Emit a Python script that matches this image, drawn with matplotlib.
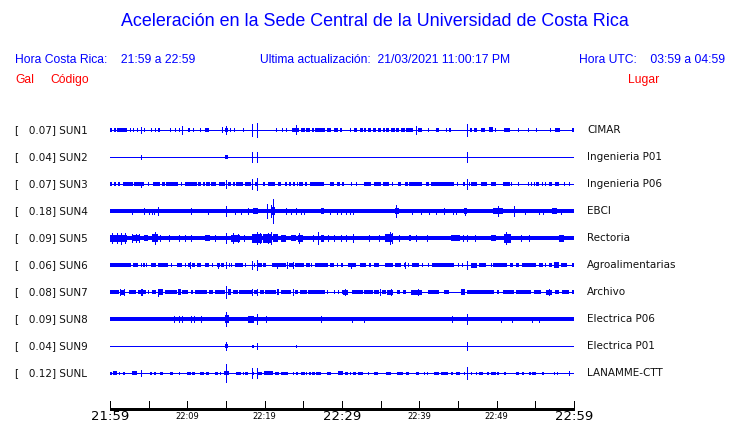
import matplotlib
matplotlib.use('Agg')
import matplotlib.pyplot as plt

# station codes, peak value shown in brackets, and site names
codes = ['SUN1', 'SUN2', 'SUN3', 'SUN4', 'SUN5', 'SUN6', 'SUN7', 'SUN8', 'SUN9', 'SUNL']
gal = [0.07, 0.04, 0.07, 0.18, 0.09, 0.06, 0.08, 0.09, 0.04, 0.12]
places = ['CIMAR', 'Ingenieria P01', 'Ingenieria P06', 'EBCI', 'Rectoria',
          'Agroalimentarias', 'Archivo', 'Electrica P06', 'Electrica P01', 'LANAMME-CTT']

# background half width of each trace (px)
base_hw = [0.5, 0.5, 0.5, 2.0, 2.2, 0.5, 0.5, 2.0, 0.5, 0.5]

# time axis, minutes after 21:59
tick_min = list(range(0, 61, 5))
label_min = [0, 10, 20, 30, 40, 50, 60]
label_txt = ['21:59', '22:09', '22:19', '22:29', '22:39', '22:49', '22:59']
big_labels = ['21:59', '22:29', '22:59']

# bursts of noise: (start min, end min, half width px); default half width 1.6
sun1_blocks = [(0.0, 0.2), (0.56, 0.77), (0.95, 2.15), (2.58, 2.7), (3.0, 3.1), (3.44, 3.55),
               (4.43, 4.55), (5.29, 5.4), (5.81, 5.9), (6.24, 6.45), (7.78, 7.9), (8.39, 8.5),
               (8.9, 9.07), (10.1, 10.3), (10.75, 10.85), (11.6, 11.7), (12.26, 12.77),
               (14.9, 15.3), (15.5, 15.6), (16.04, 16.15), (17.2, 17.3), (21.5, 21.6),
               (22.2, 22.3), (22.8, 22.9), (23.5, 24.5, 2), (24.7, 25.2), (25.4, 25.8),
               (26.1, 26.4), (26.45, 27.74), (28.1, 28.6), (28.95, 29.5), (29.7, 30.0),
               (31.0, 31.2), (31.5, 32.0), (32.3, 32.7), (32.9, 33.1), (33.3, 33.8),
               (34.0, 34.4), (34.6, 35.1), (35.3, 35.5), (35.7, 36.1), (36.4, 36.8),
               (37.0, 37.4), (37.6, 38.1), (38.3, 39.2), (39.8, 40.4), (41.1, 41.2),
               (42.2, 42.6), (43.4, 43.5), (43.9, 44.1), (46.5, 46.8), (47.1, 47.4),
               (48.0, 48.5), (49.0, 49.5, 2.5), (49.8, 49.9), (51.0, 51.7), (52.8, 52.9),
               (54.1, 54.2), (55.1, 55.2), (56.9, 57.0), (57.6, 58.2, 2), (59.7, 60.0, 2)]
sun1_spikes = [(4.0, 3), (9.25, 4), (14.5, 2.5), (15.05, 4), (18.36, 6), (19.05, 7),
               (24.0, 4.5), (39.6, 4), (46.1, 6)]

sun2_blocks = [(14.9, 15.2, 2)]
sun2_spikes = [(4.0, 2), (18.36, 5), (19.05, 5), (46.1, 5)]

sun3_blocks = [(0.0, 0.2), (0.56, 0.77), (1.0, 1.3), (1.72, 3.0), (3.14, 4.43), (4.95, 5.05),
               (5.6, 6.45), (6.75, 7.1), (7.3, 8.8), (9.15, 9.25), (9.7, 11.2), (11.4, 11.8),
               (12.0, 12.26), (12.47, 12.9), (13.1, 13.76), (14.06, 14.84), (15.3, 15.6),
               (15.9, 16.1), (16.35, 17.2), (17.4, 18.2), (18.7, 19.2), (19.8, 20.1),
               (20.4, 21.3), (21.7, 22.15), (22.6, 22.9), (23.2, 23.4), (23.65, 23.9),
               (24.2, 24.3), (24.5, 25.0), (25.2, 25.5), (25.8, 27.7), (28.4, 29.0),
               (29.4, 29.7), (30.0, 30.3), (31.2, 31.3), (31.8, 31.9), (32.9, 33.8),
               (34.2, 35.1), (35.3, 36.1), (36.5, 36.6), (37.2, 37.6), (38.1, 38.5),
               (38.7, 40.4), (40.8, 41.3), (41.5, 44.5), (44.9, 45.0), (45.6, 45.9),
               (46.4, 46.5), (46.7, 47.5), (48.0, 48.8), (49.25, 49.9), (50.8, 51.7),
               (51.9, 52.0), (52.7, 52.8), (54.0, 54.1), (54.4, 54.5), (54.8, 54.9),
               (55.1, 55.5), (55.9, 56.0), (56.3, 56.4), (56.8, 57.2), (57.6, 58.1),
               (58.7, 58.8), (59.3, 59.4)]
sun3_spikes = [(4.0, 2.5), (15.05, 4), (18.36, 5), (19.05, 6), (46.1, 5)]

sun4_blocks = [(18.5, 19.1, 3), (21.0, 21.4, 4), (27.3, 27.7, 3), (36.8, 37.4, 3),
               (45.8, 46.2, 3), (49.5, 50.8, 3), (57.2, 57.8, 3)]
sun4_spikes = [(2.8, 2.5), (4.4, 3), (5.0, 2.5), (5.4, 2.5), (5.7, 2.5), (6.2, 4), (10.5, 3),
               (12.7, 2.5), (15.05, 5), (16.2, 2.5), (17.0, 2.5), (17.8, 3), (20.35, 7),
               (20.8, 6), (21.1, 12), (22.8, 3), (23.4, 2.5), (24.1, 3), (24.7, 2.5),
               (25.1, 2.5), (28.5, 2.5), (29.4, 2.5), (29.9, 2.5), (30.5, 2.5), (31.0, 2.5),
               (31.4, 2.5), (37.0, 6), (39.1, 2.5), (40.2, 2.5), (41.2, 2.5), (42.2, 2.5),
               (43.2, 3), (44.3, 2.5), (44.8, 2.5), (45.9, 3.5), (50.2, 5), (52.2, 5),
               (53.6, 2.5), (55.5, 2.5), (56.0, 2.5), (58.3, 2.5)]

sun5_blocks = [(0.0, 2.15, 3.5), (2.8, 3.9, 3), (4.4, 4.95, 3), (5.4, 6.2, 4), (12.3, 12.9, 3),
               (15.7, 16.8, 3.5), (18.3, 19.6, 4.5), (19.8, 20.9, 4.5), (21.1, 21.7, 4),
               (22.1, 22.8, 3.5), (23.4, 24.1, 3), (24.3, 25.0, 3.5), (27.3, 27.7, 3.5),
               (35.5, 36.6, 4), (38.7, 38.9, 3), (44.1, 45.2, 3), (49.3, 49.9, 3),
               (51.0, 51.8, 4.5), (58.1, 58.7, 3.5)]
sun5_spikes = [(0.3, 5), (0.86, 5), (1.4, 5.5), (1.9, 5), (2.9, 4), (3.4, 4), (3.8, 4), (5.8, 6),
               (6.45, 3), (7.6, 3), (8.9, 3), (9.7, 3), (10.45, 3), (13.55, 3), (15.05, 5),
               (15.9, 5), (16.6, 4), (17.3, 3), (19.05, 6), (19.35, 5), (20.4, 5), (20.8, 6),
               (24.5, 5), (26.3, 3), (26.9, 6), (28.2, 3), (29.0, 3), (29.9, 3), (30.5, 3),
               (31.4, 4), (33.5, 3), (34.8, 3), (36.2, 6), (36.5, 5), (37.4, 3), (39.6, 3),
               (40.95, 3), (45.6, 3), (46.2, 3), (47.2, 3), (51.2, 6), (53.1, 3), (54.2, 3)]

sun6_blocks = [(0.0, 2.7, 2), (3.0, 3.65, 2), (4.0, 4.1, 2), (4.3, 4.5, 2), (4.7, 4.8, 2),
               (5.3, 5.9, 2), (6.15, 6.25, 2), (6.3, 7.5, 2), (7.9, 8.0, 2), (8.7, 9.3, 2),
               (9.7, 9.8, 2), (10.1, 10.45, 2), (10.6, 11.0, 2), (11.3, 11.8, 2),
               (12.26, 12.77, 2), (13.2, 13.3, 2), (13.8, 14.2, 2), (14.4, 14.8, 2),
               (15.35, 15.45, 2), (15.7, 15.8, 2), (16.1, 17.2, 2), (17.5, 17.6, 2),
               (18.6, 18.8, 2), (19.2, 19.6, 2), (19.8, 20.2, 2), (20.9, 22.8, 2),
               (23.2, 23.65, 2), (23.9, 25.1, 2), (25.4, 25.8, 2), (26.0, 26.1, 2),
               (26.45, 28.25, 2), (28.5, 29.0, 2), (29.4, 29.5, 2), (29.9, 30.1, 2),
               (30.75, 31.8, 2), (32.35, 33.1, 2), (33.5, 33.8, 2), (34.1, 34.8, 2),
               (35.5, 36.6, 2), (36.8, 37.6, 2), (38.0, 38.3, 2), (38.5, 38.6, 2),
               (39.1, 39.9, 2), (40.4, 40.5, 2), (41.1, 41.2, 2), (41.7, 44.5, 2),
               (44.95, 45.05, 2), (45.5, 45.6, 2), (46.7, 47.4, 2.5), (47.7, 48.6, 2),
               (49.25, 49.35, 2), (49.55, 51.3, 2), (51.7, 52.05, 2), (52.5, 52.9, 2),
               (53.3, 55.1, 2), (55.5, 56.0, 2), (56.3, 56.4, 2), (56.8, 57.2, 2),
               (57.4, 58.1, 3), (58.3, 59.1, 2), (59.8, 60.0, 2)]
sun6_spikes = [(10.3, 3), (14.0, 2.5), (15.05, 3), (18.36, 4), (19.05, 5), (21.6, 2.5),
               (22.9, 3), (23.65, 3), (31.2, 2.5), (38.1, 3), (46.1, 4)]

sun7_blocks = [(0.0, 1.1, 2), (1.3, 1.9, 2.5), (2.4, 3.3, 2), (3.65, 4.7, 2), (4.86, 4.96, 2),
               (5.4, 6.0, 2), (6.2, 6.9, 3), (7.1, 8.6, 2), (8.8, 9.2, 3), (9.3, 10.1, 2),
               (10.45, 10.75, 2), (11.05, 12.5, 2), (12.8, 13.35, 2), (13.55, 14.9, 2),
               (15.3, 15.7, 3), (15.9, 16.5, 2), (16.65, 18.3, 2), (18.6, 19.1, 2),
               (19.35, 19.9, 2), (20.1, 21.5, 2), (21.6, 21.8, 3), (22.15, 23.4, 2),
               (23.9, 24.3, 2), (24.6, 25.5, 2), (25.6, 27.8, 2), (28.1, 28.2, 2),
               (28.95, 29.05, 2), (29.5, 29.6, 2), (30.0, 30.1, 2), (30.1, 30.75, 2.5),
               (31.3, 32.7, 2), (32.9, 34.0, 2), (34.2, 34.8, 2), (35.2, 35.7, 2),
               (35.8, 36.65, 2.5), (37.1, 37.5, 2), (37.85, 38.3, 2), (38.9, 40.4, 2.5),
               (41.1, 42.6, 2), (43.2, 43.9, 2), (45.4, 45.9, 3), (46.2, 49.7, 2),
               (50.1, 50.3, 2), (50.8, 52.3, 2), (52.5, 54.4, 2), (54.8, 55.7, 2),
               (56.4, 57.2, 2.5), (57.55, 58.1, 2), (58.5, 59.4, 2), (59.7, 60.0, 2)]
sun7_spikes = [(1.35, 3), (1.85, 3), (4.0, 3), (4.1, 3), (6.15, 3.5), (15.05, 6), (18.36, 3),
               (19.05, 3), (23.65, 3), (30.45, 3), (34.9, 3), (36.35, 3), (39.8, 3), (56.8, 3)]

sun8_blocks = [(14.9, 15.35, 4), (17.9, 18.6, 3.5)]
sun8_spikes = [(8.3, 3), (8.9, 3), (9.3, 3), (10.5, 3), (10.9, 3), (11.8, 3), (15.05, 7),
               (19.05, 5), (20.2, 3), (27.3, 3), (31.3, 2.5), (32.9, 2.5), (44.2, 3),
               (46.1, 5), (50.5, 2.5), (52.0, 2.5), (54.6, 2.5), (55.5, 2.5)]

sun9_blocks = [(14.9, 15.2, 2), (18.4, 18.6, 1.5)]
sun9_spikes = [(15.05, 4), (19.05, 3), (24.1, 1), (46.1, 4)]

sunl_blocks = [(0.0, 0.3), (0.4, 0.86, 2), (1.1, 1.3), (1.72, 1.94), (2.8, 3.44, 2),
               (5.16, 5.46), (5.7, 6.0), (6.45, 6.9), (7.74, 8.2), (8.9, 9.0), (10.0, 10.45),
               (10.6, 11.05), (11.6, 12.2), (12.35, 12.8), (13.55, 14.0), (14.2, 14.4),
               (14.75, 15.35, 2), (16.35, 17.0), (17.2, 17.3), (17.5, 17.9), (18.5, 18.6),
               (19.1, 19.6), (19.9, 21.1, 2), (21.3, 21.8), (22.15, 23.0), (23.65, 23.75),
               (24.1, 24.3), (24.7, 25.2), (25.4, 25.5), (25.7, 25.8), (25.9, 26.0),
               (26.1, 26.45), (26.7, 27.3), (28.1, 28.6), (29.5, 30.1, 2), (30.45, 30.75),
               (31.0, 31.2), (31.4, 31.75), (32.05, 32.7), (33.3, 33.4), (34.2, 34.6),
               (35.7, 36.35), (37.1, 37.85), (38.3, 38.7), (39.6, 40.0), (40.65, 40.75),
               (40.95, 41.05), (41.9, 42.6), (42.8, 43.7), (44.1, 44.3), (44.7, 45.2),
               (45.8, 45.9), (46.7, 46.8), (47.3, 47.5), (47.7, 48.2), (48.8, 49.0),
               (49.25, 49.9), (50.1, 50.3), (51.0, 51.2), (52.5, 52.9), (53.25, 53.55),
               (54.2, 54.4), (54.6, 55.05), (55.9, 56.1), (57.4, 57.5), (57.85, 57.95),
               (59.4, 59.5)]
sunl_spikes = [(4.0, 3), (15.05, 9), (18.36, 5), (19.05, 5), (46.1, 6), (59.4, 2)]

all_blocks = [sun1_blocks, sun2_blocks, sun3_blocks, sun4_blocks, sun5_blocks,
              sun6_blocks, sun7_blocks, sun8_blocks, sun9_blocks, sunl_blocks]
all_spikes = [sun1_spikes, sun2_spikes, sun3_spikes, sun4_spikes, sun5_spikes,
              sun6_spikes, sun7_spikes, sun8_spikes, sun9_spikes, sunl_spikes]

W, H = 740, 423
BLUE = '#0000ff'
RED = '#ff0000'
SPACING = 27.03   # px between traces
TOP_TRACE = 130   # px of first trace
AX_TOP = 100
AX_LEFT, AX_RIGHT = 110, 574
PX = 0.72         # one pixel in points

fig = plt.figure(figsize=(W / 100, H / 100), dpi=100)
fig.patch.set_facecolor('white')
ax = fig.add_axes([AX_LEFT / W, 0, (AX_RIGHT - AX_LEFT) / W, (H - AX_TOP) / H])
ax.set_xlim(0, 60)
ax.set_ylim(-(H - TOP_TRACE), TOP_TRACE - AX_TOP)  # 1 data unit = 1 px
ax.axis('off')

hdr = dict(family=['Liberation Sans', 'DejaVu Sans'])
fig.text(375 / W, 1 - 21 / H, 'Aceleración en la Sede Central de la Universidad de Costa Rica',
         ha='center', va='center', color=BLUE, fontsize=12.9, **hdr)
fig.text(15 / W, 1 - 60 / H, 'Hora Costa Rica:    21:59 a 22:59', ha='left', va='center',
         color=BLUE, fontsize=8.7, **hdr)
fig.text(260 / W, 1 - 60 / H, 'Ultima actualización:  21/03/2021 11:00:17 PM', ha='left',
         va='center', color=BLUE, fontsize=8.7, **hdr)
fig.text(725 / W, 1 - 60 / H, 'Hora UTC:    03:59 a 04:59', ha='right', va='center',
         color=BLUE, fontsize=8.7, **hdr)
fig.text(15 / W, 1 - 80 / H, 'Gal', ha='left', va='center', color=RED, fontsize=8.7, **hdr)
fig.text(50 / W, 1 - 80 / H, 'Código', ha='left', va='center', color=RED, fontsize=8.7, **hdr)
fig.text(628 / W, 1 - 80 / H, 'Lugar', ha='left', va='center', color=RED, fontsize=8.7, **hdr)

for i, code in enumerate(codes):
    yc = -i * SPACING
    # background noise band / line
    if base_hw[i] < 1:
        ax.hlines(yc, 0, 60, color=BLUE, lw=PX, antialiased=False)
    else:
        ax.broken_barh([(0, 60)], (yc - base_hw[i], 2 * base_hw[i]),
                       facecolor=BLUE, lw=0, antialiased=False)
    # bursts
    for b in all_blocks[i]:
        hw = b[2] if len(b) > 2 else 1.6
        ax.broken_barh([(b[0], max(b[1] - b[0], 0.13))], (yc - hw, 2 * hw),
                       facecolor=BLUE, lw=0, antialiased=False)
    # spikes
    ts = [s[0] for s in all_spikes[i]]
    amps = [s[1] for s in all_spikes[i]]
    ax.vlines(ts, [yc - a for a in amps], [yc + a for a in amps], color=BLUE, lw=PX,
              antialiased=False)

    ypx = 1 - (TOP_TRACE + i * SPACING) / H
    fig.text(15 / W, ypx, '[   %.2f] %s' % (gal[i], code), ha='left', va='center',
             fontsize=7.5, color='#111111')
    fig.text(587 / W, ypx, places[i], ha='left', va='center', fontsize=7.5, color='#111111')

# time axis
y_axis = -(409.3 - TOP_TRACE)
ax.hlines(y_axis, 0, 60, color='black', lw=1.0, antialiased=False, clip_on=False)
ax.vlines(tick_min, y_axis, y_axis + 8.6, color='black', lw=PX, antialiased=False,
          clip_on=False)
for m, t in zip(label_min, label_txt):
    big = t in big_labels
    ax.text(m, y_axis - 7, t, ha='center', va='center', fontsize=9.5 if big else 6,
            color='black', clip_on=False)

fig.savefig('out.png', dpi=100, facecolor='white')
